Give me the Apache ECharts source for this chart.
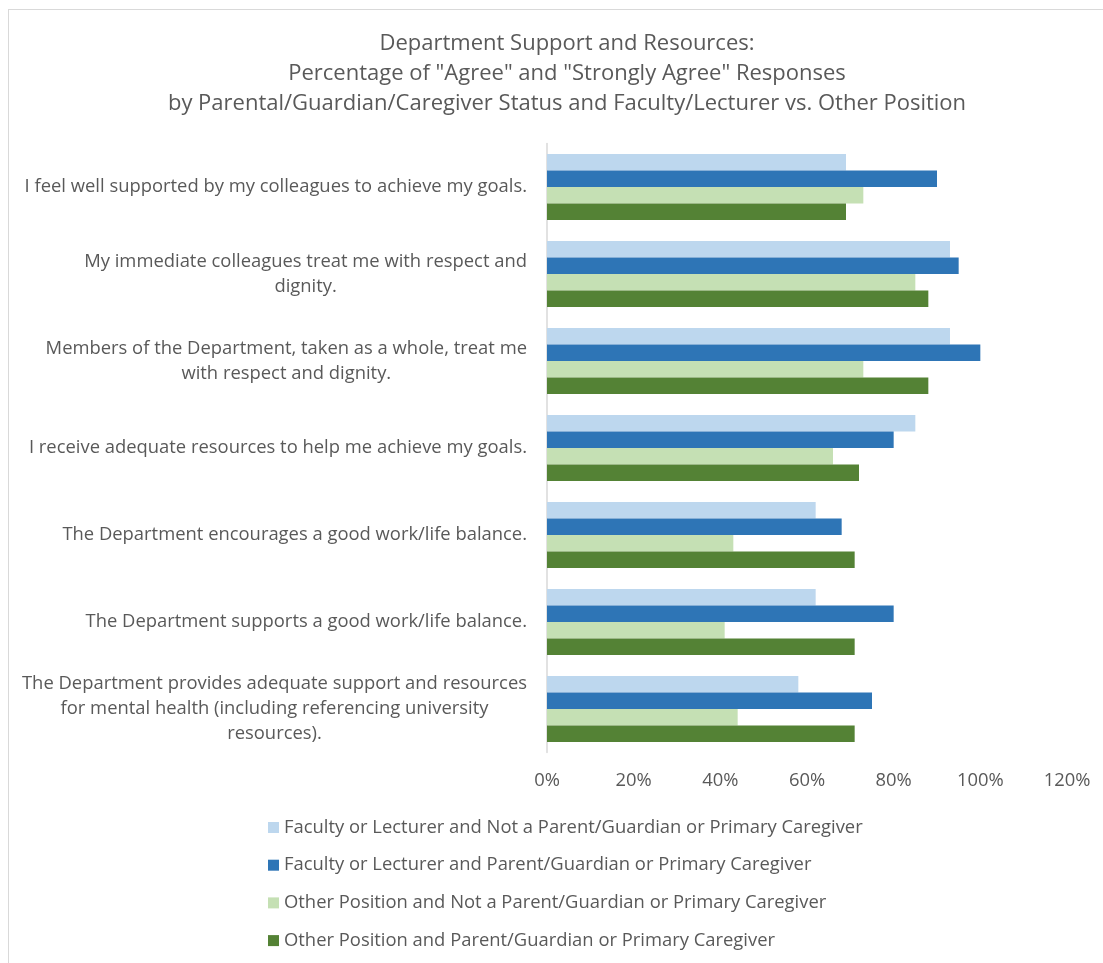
<!DOCTYPE html>
<html>
<head>
<meta charset="utf-8">
<title>Department Support and Resources</title>
<script src="https://cdn.jsdelivr.net/npm/echarts@6/dist/echarts.min.js"></script>
<style>
  html, body { margin: 0; padding: 0; background: #ffffff; overflow: hidden; }
  #chart { position: absolute; left: 0; top: 0; width: 1103px; height: 963px; }
  #frame { position: absolute; left: 8px; top: 9px; width: 1200px; height: 1100px;
           border-top: 1.5px solid #d9d9d9; border-left: 1.5px solid #d9d9d9; pointer-events: none; }
</style>
</head>
<body>
<div id="chart"></div>
<div id="frame"></div>
<script>
// Survey statements (category axis), top to bottom
const categories = [
  'I feel well supported by my colleagues to achieve my goals.',
  'My immediate colleagues treat me with respect and\ndignity.',
  'Members of the Department, taken as a whole, treat me\nwith respect and dignity.',
  'I receive adequate resources to help me achieve my goals.',
  'The Department encourages a good work/life balance.',
  'The Department supports a good work/life balance.',
  'The Department provides adequate support and resources\nfor mental health (including referencing university\nresources).'
];

// Group names
const seriesNames = [
  'Faculty or Lecturer and Not a Parent/Guardian or Primary Caregiver',
  'Faculty or Lecturer and Parent/Guardian or Primary Caregiver',
  'Other Position and Not a Parent/Guardian or Primary Caregiver',
  'Other Position and Parent/Guardian or Primary Caregiver'
];

// Percent agreeing / strongly agreeing, per statement
const facultyNotParent = [69, 93, 93, 85, 62, 62, 58];
const facultyParent    = [90, 95, 100, 80, 68, 80, 75];
const otherNotParent   = [73, 85, 73, 66, 43, 41, 44];
const otherParent      = [69, 88, 88, 72, 71, 71, 71];

const seriesColors = ['#BDD7EE', '#2E75B6', '#C5E0B4', '#548235'];

const titleLines = [
  'Department Support and Resources:',
  'Percentage of "Agree" and "Strongly Agree" Responses',
  'by Parental/Guardian/Caregiver Status and Faculty/Lecturer vs. Other Position'
];

const FONT = '"Open Sans", "Noto Sans", "Liberation Sans", sans-serif';
const TEXT = '#595959';
const LABEL_SIZE = 18.4;

const chart = echarts.init(document.getElementById('chart'), null, { renderer: 'canvas' });

const values = [facultyNotParent, facultyParent, otherNotParent, otherParent];

chart.setOption({
  backgroundColor: '#ffffff',
  animation: false,
  // three-line heading, centred over the chart body
  graphic: [{
    type: 'text',
    x: 567,
    y: 28.5,
    silent: true,
    style: {
      text: titleLines.join('\n'),
      align: 'center',
      verticalAlign: 'top',
      font: '22px ' + FONT,
      fill: TEXT,
      lineHeight: 30
    }
  }],
  legend: {
    orient: 'vertical',
    left: 263,
    top: 812,
    icon: 'rect',
    itemWidth: 11,
    itemHeight: 11,
    itemGap: 16.7,
    data: seriesNames,
    textStyle: {
      fontFamily: FONT,
      fontSize: LABEL_SIZE,
      color: TEXT,
      lineHeight: 21
    }
  },
  grid: {
    left: 547,
    right: 36,
    top: 143.5,
    bottom: 210.5,
    containLabel: false
  },
  xAxis: {
    type: 'value',
    min: 0,
    max: 120,
    interval: 20,
    axisLine: { show: false },
    axisTick: { show: false },
    splitLine: { show: false },
    axisLabel: {
      formatter: '{value}%',
      fontFamily: FONT,
      fontSize: LABEL_SIZE,
      color: TEXT,
      margin: 19
    }
  },
  yAxis: {
    type: 'category',
    inverse: true,
    data: categories,
    axisLine: { show: true, lineStyle: { color: '#d9d9d9', width: 1.5 } },
    axisTick: { show: false },
    axisLabel: {
      interval: 0,
      margin: 20,
      align: 'right',
      fontFamily: FONT,
      fontSize: LABEL_SIZE,
      color: TEXT,
      lineHeight: 25,
      // each line centred within the right-aligned label block
      formatter: function (v) {
        return v.split('\n').map(function (l) { return '{c|' + l + '}'; }).join('\n');
      },
      rich: {
        c: { align: 'center', fontFamily: FONT, fontSize: LABEL_SIZE, color: TEXT, lineHeight: 25 }
      }
    }
  },
  series: seriesNames.map(function (name, i) {
    return {
      name: name,
      type: 'bar',
      data: values[i],
      barGap: '0%',
      barCategoryGap: '24%',
      itemStyle: { color: seriesColors[i] }
    };
  })
});
</script>
</body>
</html>
